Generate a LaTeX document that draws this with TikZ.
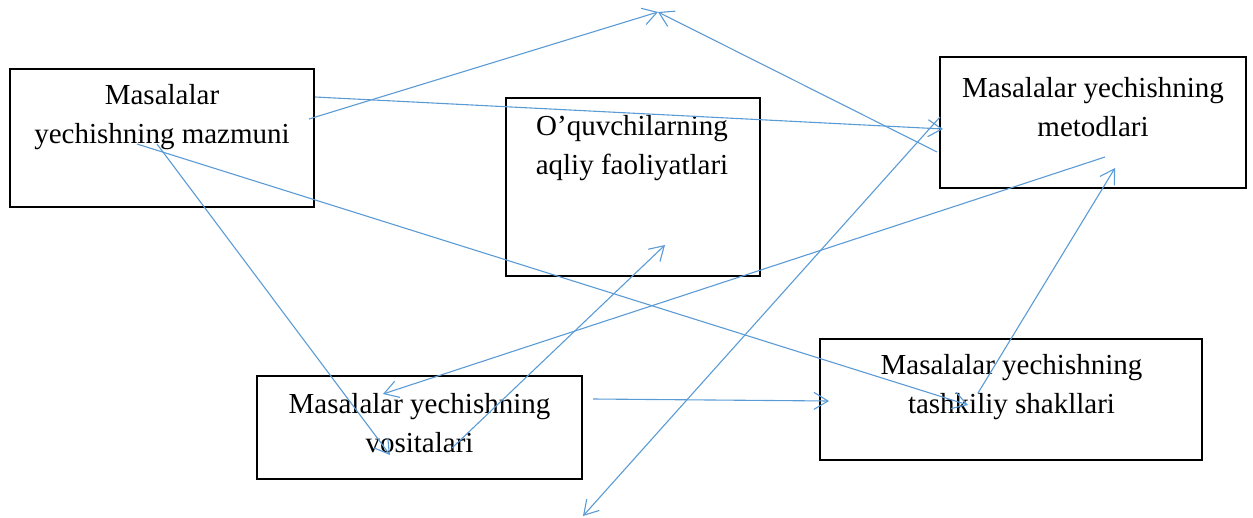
\documentclass[tikz,border=0pt]{standalone}
\usepackage{fontspec}
\setmainfont{Liberation Serif}
\usetikzlibrary{arrows.meta,positioning}
\definecolor{linkblue}{RGB}{91,155,213}

\begin{document}
\begin{tikzpicture}[x=1pt, y=-1pt,
    box/.style={draw=black, line width=1.2pt, inner sep=0pt},
    lbl/.style={align=center, font=\fontsize{29}{39}\selectfont},
    link/.style={draw=linkblue, line width=1.1pt, -{Straight Barb[length=14pt,width=17pt]}}]
    \useasboundingbox (0,0) rectangle (1253,517);

    % boxes
    \node[box, minimum width=304pt, minimum height=138pt] (mazmun) at (162,138) {};
    \node[box, minimum width=254pt, minimum height=178pt] (aqliy) at (633,187) {};
    \node[box, minimum width=306pt, minimum height=131pt] (metod) at (1093,122.5) {};
    \node[box, minimum width=325pt, minimum height=103pt] (vosita) at (419.5,427.5) {};
    \node[box, minimum width=382pt, minimum height=121pt] (shakl) at (1011,399.5) {};

    % texts
    \node[lbl] (mazmunT) at (162,117) {Masalalar\\yechishning mazmuni};
    \node[lbl] (aqliyT) at (632,148) {O’quvchilarning\\aqliy faoliyatlari};
    \node[lbl] (metodT) at (1093,107.5) {Masalalar yechishning\\metodlari};
    \node[lbl] (vositaT) at (419.5,423) {Masalalar yechishning\\vositalari};
    \node[lbl] (shaklT) at (1011.5,387) {Masalalar yechishning\\tashkiliy shakllari};

    % link ends
    \coordinate (top) at (658,12);
    \coordinate (bottom) at (583,516);
    \coordinate (mz1) at (309,119);
    \coordinate (mz2) at (315,97);
    \coordinate (mz3) at (137,144);
    \coordinate (mz4) at (157,144);
    \coordinate (mt1) at (937,152);
    \coordinate (mt2) at (943,129);
    \coordinate (mt3) at (1105,157);
    \coordinate (mt4) at (1115,168);
    \coordinate (mt5) at (940,117);
    \coordinate (aq1) at (665,245);
    \coordinate (vs1) at (383,394);
    \coordinate (vs2) at (390,455);
    \coordinate (vs3) at (452,448);
    \coordinate (vs4) at (593,399);
    \coordinate (sh1) at (968,405);
    \coordinate (sh2) at (829,401);
    \coordinate (sh3) at (978,393);

    \draw[link] (mz1) -- (top);
    \draw[link] (mt1) -- (top);
    \draw[link] (mz2) -- (mt2);
    \draw[link] (mz3) -- (sh1);
    \draw[link] (mz4) -- (vs2);
    \draw[link] (mt3) -- (vs1);
    \draw[link] (vs3) -- (aq1);
    \draw[link] (vs4) -- (sh2);
    \draw[link] (sh3) -- (mt4);
    \draw[link] (mt5) -- (bottom);
\end{tikzpicture}
\end{document}
